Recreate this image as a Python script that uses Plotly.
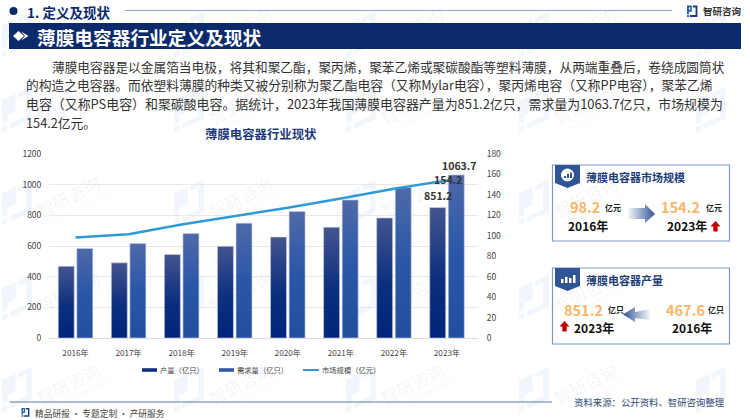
import plotly.graph_objects as go

W = 750
H = 420
FONT = "Noto Sans CJK SC"
NAVY = "#0b2a6b"

years = ["2016年", "2017年", "2018年", "2019年", "2020年", "2021年", "2022年", "2023年"]
production = [467.6, 490, 545, 598, 658, 722, 783, 851.2]
demand = [584, 616, 681, 749, 825, 900, 981, 1063.7]
market_size = [98.2, 101.6, 111, 119, 127.5, 136.5, 146, 154.2]
series_names = ["产量（亿只）", "需求量（亿只）", "市场规模（亿元）"]

left_ticks = [0, 200, 400, 600, 800, 1000, 1200]
right_ticks = [0, 20, 40, 60, 80, 100, 120, 140, 160, 180]

intro_lines = [
    "薄膜电容器是以金属箔当电极，将其和聚乙酯，聚丙烯，聚苯乙烯或聚碳酸酯等塑料薄膜，从两端重叠后，卷绕成圆筒状",
    "的构造之电容器。而依塑料薄膜的种类又被分别称为聚乙酯电容（又称Mylar电容），聚丙烯电容（又称PP电容），聚苯乙烯",
    "电容（又称PS电容）和聚碳酸电容。据统计，2023年我国薄膜电容器产量为851.2亿只，需求量为1063.7亿只，市场规模为",
    "154.2亿元。",
]
intro_pos = [(51, 66, 12.7), (25, 85, 12.75), (25, 103, 12.92), (25, 122, 12.75)]

wm_rows = [37, 112, 205, 300, 392]
wm_cols = [18, 190, 362, 535, 712]


def px(x):
    return x / W


def py(y):
    return 1 - y / H


def text(x, y, s, size, color="#222222", anchor="left", bold=False, angle=0, family=FONT):
    return dict(
        x=px(x), y=py(y), xref="paper", yref="paper", text="<b>%s</b>" % s if bold else s,
        showarrow=False, xanchor=anchor, yanchor="middle", textangle=angle, borderpad=0,
        font=dict(family=family, size=size, color=color),
    )


def poly(points, color, line=None, layer="below"):
    path = "M" + " L".join("%.5f,%.5f" % (px(a), py(b)) for a, b in points) + " Z"
    return dict(type="path", path=path, xref="paper", yref="paper", fillcolor=color,
                line=dict(width=1 if line else 0, color=line or color), layer=layer)


def rect(x0, y0, x1, y1, color, line=None, layer="below", width=1):
    return dict(type="rect", xref="paper", yref="paper", x0=px(x0), x1=px(x1), y0=py(y0), y1=py(y1),
                fillcolor=color, line=dict(width=width if line else 0, color=line or color), layer=layer)


def hline(x0, x1, y, color, width=1):
    return dict(type="line", xref="paper", yref="paper", x0=px(x0), x1=px(x1), y0=py(y), y1=py(y),
                line=dict(color=color, width=width), layer="below")


def logo(x, y, s, c1, c2, shear=0.0, layer="below"):
    # the little two part company mark
    left = [(0, 0), (5, 0), (5, 6.5), (2, 6.5), (2, 9), (0, 9)]
    left2 = [(0, 10), (2, 10), (2, 12), (0, 12)]
    left3 = [(2, 2), (3.4, 2), (3.4, 4.5), (2, 4.5)]
    right = [(6, 0), (11, 0), (11, 12), (3, 12), (3, 10), (9, 10), (9, 2), (6, 2)]
    out = []
    for pts, col in ((left, c1), (left2, c1), (right, c2), (left3, "#ffffff")):
        if col == "#ffffff" and shear != 0:
            continue
        out.append(poly([(x + a * s, y + b * s + shear * (-a * s)) for a, b in pts], col, layer=layer))
    return out


def up_arrow(x, y):
    return poly([(x + 4.5, y), (x + 9.5, y + 5.5), (x + 6.7, y + 5.5), (x + 6.7, y + 10.5),
                 (x + 2.3, y + 10.5), (x + 2.3, y + 5.5), (x - 0.5, y + 5.5)], "#c00000", layer="above")


shapes = []
annotations = []

# watermark
for r in wm_rows:
    for c in wm_cols:
        shapes += logo(c - 16, r - 12, 2.7, "rgba(70,140,210,0.08)", "rgba(70,140,210,0.08)", shear=0.45)
        if c + 75 < W:
            annotations.append(text(c + 50, r - 9, "智研咨询", 17, "rgba(60,90,140,0.07)", "center", angle=-27))
            annotations.append(text(c + 60, r + 3, "INTELLIGENCE RESEARCH GROUP", 4.5, "rgba(60,90,140,0.09)", "center", angle=-27))

# header
shapes.append(dict(type="circle", xref="paper", yref="paper", x0=px(9.5), x1=px(17.5), y0=py(15), y1=py(7),
                   fillcolor=NAVY, line=dict(width=0)))
annotations.append(text(26, 11.5, "1. 定义及现状", 13.5, NAVY, bold=True))
shapes.append(hline(125, 672, 10.5, "#93a5cf", 1.2))
shapes += logo(687, 5.5, 0.95, "#1f5fae", "#1d3f7c")
annotations.append(text(702, 10.5, "智研咨询", 9.5, "#333333", bold=True))

# banner
shapes.append(rect(9, 23, 741, 49, NAVY))
shapes.append(poly([(13, 36), (18.5, 31), (24, 36), (18.5, 41)], "#ffffff"))
shapes.append(poly([(21, 31.5), (28.5, 36), (21, 40.5), (25, 36)], "#ffffff"))
annotations.append(text(36, 36, "薄膜电容器行业定义及现状", 18.7, "#ffffff", bold=True))

for line, (x, y, size) in zip(intro_lines, intro_pos):
    annotations.append(text(x, y, line, size, "#333333"))

annotations.append(text(261, 134, "薄膜电容器行业现状", 12.4, "#1f3a78", "center", bold=True))

# last point labels
annotations.append(dict(x=years[-1], y=demand[-1], xref="x", yref="y", text="<b>%.1f</b>" % demand[-1],
                        showarrow=False, xshift=12, yshift=9,
                        font=dict(family=FONT, size=10.5, color="#333333")))
annotations.append(dict(x=years[-1], y=market_size[-1], xref="x", yref="y2", text="<b>%.1f</b>" % market_size[-1],
                        showarrow=False, xshift=1, yshift=1,
                        font=dict(family=FONT, size=10.5, color="#333333")))
annotations.append(dict(x=years[-1], y=production[-1], xref="x", yref="y", text="<b>%.1f</b>" % production[-1],
                        showarrow=False, xshift=-9, yshift=12,
                        font=dict(family=FONT, size=10.5, color="#333333")))

# legend, drawn by hand so the spacing matches
shapes.append(rect(142, 368.2, 157, 371.8, "#0e2f7e", layer="above"))
shapes.append(rect(219, 368.2, 234, 371.8, "#2f58a6", layer="above"))
shapes.append(hline(303, 319, 370, "#2e9bd6", 2))
annotations.append(text(158.5, 370, series_names[0], 7.3, "#444444"))
annotations.append(text(235.5, 370, series_names[1], 7.3, "#444444"))
annotations.append(text(320.5, 370, series_names[2], 7.3, "#444444"))

# panels
ORANGE = "#f9b668"
TAG = "#2f5597"
for top, title in ((165, "薄膜电容器市场规模"), (268, "薄膜电容器产量")):
    shapes.append(rect(552.5, top, 729.5, top + 76, "#ffffff", "#7c97c8", width=1.2))
    shapes.append(poly([(555, top), (580, top), (580, top + 18), (567.5, top + 23), (555, top + 18)], TAG, layer="above"))
    annotations.append(text(585, top + 12, title, 11, "#1f3f7a", bold=True))

shapes.append(dict(type="circle", xref="paper", yref="paper", x0=px(561), x1=px(574), y0=py(181.5), y1=py(168.5),
                   fillcolor="#ffffff", line=dict(width=0), layer="above"))
shapes.append(rect(564, 178, 566, 176, TAG, layer="above"))
shapes.append(rect(567, 178, 569, 174, TAG, layer="above"))
shapes.append(rect(570, 178, 572, 172.5, TAG, layer="above"))
shapes.append(rect(561, 283, 563.5, 279, "#ffffff", layer="above"))
shapes.append(rect(565, 283, 567.5, 277, "#ffffff", layer="above"))
shapes.append(rect(569, 283, 571.5, 278, "#ffffff", layer="above"))
shapes.append(rect(573, 283, 575.5, 275, "#ffffff", layer="above"))

annotations += [
    text(569, 206, "98.2", 14.5, ORANGE, bold=True),
    text(604, 207, "亿元", 8, "#222222", bold=True),
    text(660, 206, "154.2", 14.5, ORANGE, bold=True),
    text(705, 207, "亿元", 8, "#222222", bold=True),
    text(567, 225, "2016年", 12, "#111111", bold=True),
    text(666, 225, "2023年", 12, "#111111", bold=True),
    text(563, 309, "851.2", 14.5, ORANGE, bold=True),
    text(607, 309, "亿只", 8, "#222222", bold=True),
    text(665, 309, "467.6", 14.5, ORANGE, bold=True),
    text(707, 309, "亿只", 8, "#222222", bold=True),
    text(573, 327, "2023年", 12, "#111111", bold=True),
    text(671, 327, "2016年", 12, "#111111", bold=True),
]
shapes.append(up_arrow(711, 221))
shapes.append(up_arrow(560, 321))

# footer
shapes.append(hline(9.5, 552, 402, "#5f78ad", 1))
shapes += logo(21.5, 408, 0.72, "#1f5fae", "#1d3f7c")
annotations.append(text(34, 413, "精品研报 · 专题定制 · 产研服务", 8.7, "#444444"))
annotations.append(text(573, 402, "资料来源：公开资料、智研咨询整理", 9.4, "#2f4a78"))

fig = go.Figure()
fig.add_trace(go.Bar(x=years, y=production, name=series_names[0], marker=dict(color="#0a2c7c", line=dict(width=0.6, color="#c9d0de"))))
fig.add_trace(go.Bar(x=years, y=demand, name=series_names[1], marker=dict(color="#2f58a6", line=dict(width=0.6, color="#c9d0de"))))
fig.add_trace(go.Scatter(x=years, y=market_size, name=series_names[2], yaxis="y2", mode="lines",
                         line=dict(color="#2e9bd6", width=2.5)))

# gradient arrows between the panel numbers, on a hidden pixel axis
arrow_right = ([628, 645, 645, 655, 645, 645, 628, 628], [208, 208, 204, 214, 223, 219, 219, 208])
arrow_left = ([650, 635, 635, 623, 635, 635, 650, 650], [309, 312, 307, 314.5, 322, 318, 320, 309])
fig.add_trace(go.Scatter(x=arrow_right[0], y=arrow_right[1], xaxis="x3", yaxis="y3", mode="lines", fill="toself",
                         line=dict(width=0), showlegend=False, hoverinfo="skip",
                         fillgradient=dict(type="horizontal", start=628, stop=655,
                                           colorscale=[[0, "rgba(47,85,151,0.05)"], [1, "rgba(47,85,151,1)"]])))
fig.add_trace(go.Scatter(x=arrow_left[0], y=arrow_left[1], xaxis="x3", yaxis="y3", mode="lines", fill="toself",
                         line=dict(width=0), showlegend=False, hoverinfo="skip",
                         fillgradient=dict(type="horizontal", start=623, stop=650,
                                           colorscale=[[0, "rgba(47,85,151,1)"], [1, "rgba(47,85,151,0.05)"]])))

fig.update_layout(
    width=W, height=H, margin=dict(l=0, r=0, t=0, b=0), paper_bgcolor="#ffffff", plot_bgcolor="rgba(0,0,0,0)",
    font=dict(family=FONT, size=10, color="#444444"),
    barmode="group", bargap=0.3, bargroupgap=0.14, showlegend=False,
    shapes=shapes, annotations=annotations,
    xaxis=dict(domain=[px(49), px(478)], showgrid=False, tickfont=dict(size=8.2, color="#444444"),
               ticks="outside", ticklen=7, tickcolor="rgba(0,0,0,0)",
               showline=True, linecolor="#dddddd", linewidth=1, fixedrange=True, automargin=False),
    yaxis=dict(domain=[py(338), py(154)], range=[0, 1200], tickvals=left_ticks, gridcolor="#e8e8e8", gridwidth=1,
               ticks="outside", ticklen=5, tickcolor="rgba(0,0,0,0)",
               zeroline=False, tickfont=dict(size=8.5, color="#444444"), fixedrange=True, automargin=False),
    yaxis2=dict(overlaying="y", side="right", range=[0, 180], tickvals=right_ticks, showgrid=False, zeroline=False,
                ticks="outside", ticklen=6, tickcolor="rgba(0,0,0,0)",
                tickfont=dict(size=8.5, color="#444444"), fixedrange=True, automargin=False),
    xaxis3=dict(domain=[0, 1], range=[0, W], visible=False, fixedrange=True, anchor="y3", automargin=False),
    yaxis3=dict(domain=[0, 1], range=[H, 0], visible=False, fixedrange=True, anchor="x3", automargin=False),
)

# plotly has no gradient on bars, so add the svg gradients after the plot is drawn
post = """
document.body.style.margin = '0';
var svg = document.querySelector('.main-svg');
var ns = 'http://www.w3.org/2000/svg';
var defs = document.createElementNS(ns, 'defs');
function grad(id, stops) {
  var g = document.createElementNS(ns, 'linearGradient');
  g.setAttribute('id', id); g.setAttribute('x1', '0'); g.setAttribute('y1', '0');
  g.setAttribute('x2', '0'); g.setAttribute('y2', '1');
  stops.forEach(function (s) {
    var st = document.createElementNS(ns, 'stop');
    st.setAttribute('offset', s[0]); st.setAttribute('stop-color', s[1]);
    g.appendChild(st);
  });
  defs.appendChild(g);
}
grad('gbar0', [[0, '#44558f'], [0.55, '#0c2f7e'], [1, '#00247a']]);
grad('gbar1', [[0, '#4f6aa8'], [0.5, '#2a56a8'], [1, '#214f9e']]);
svg.appendChild(defs);
document.querySelectorAll('.barlayer .trace').forEach(function (t, i) {
  t.querySelectorAll('path').forEach(function (p) { p.style.fill = 'url(#gbar' + i + ')'; });
});
"""

fig.write_html("out.html", post_script=post, config=dict(displayModeBar=False))
